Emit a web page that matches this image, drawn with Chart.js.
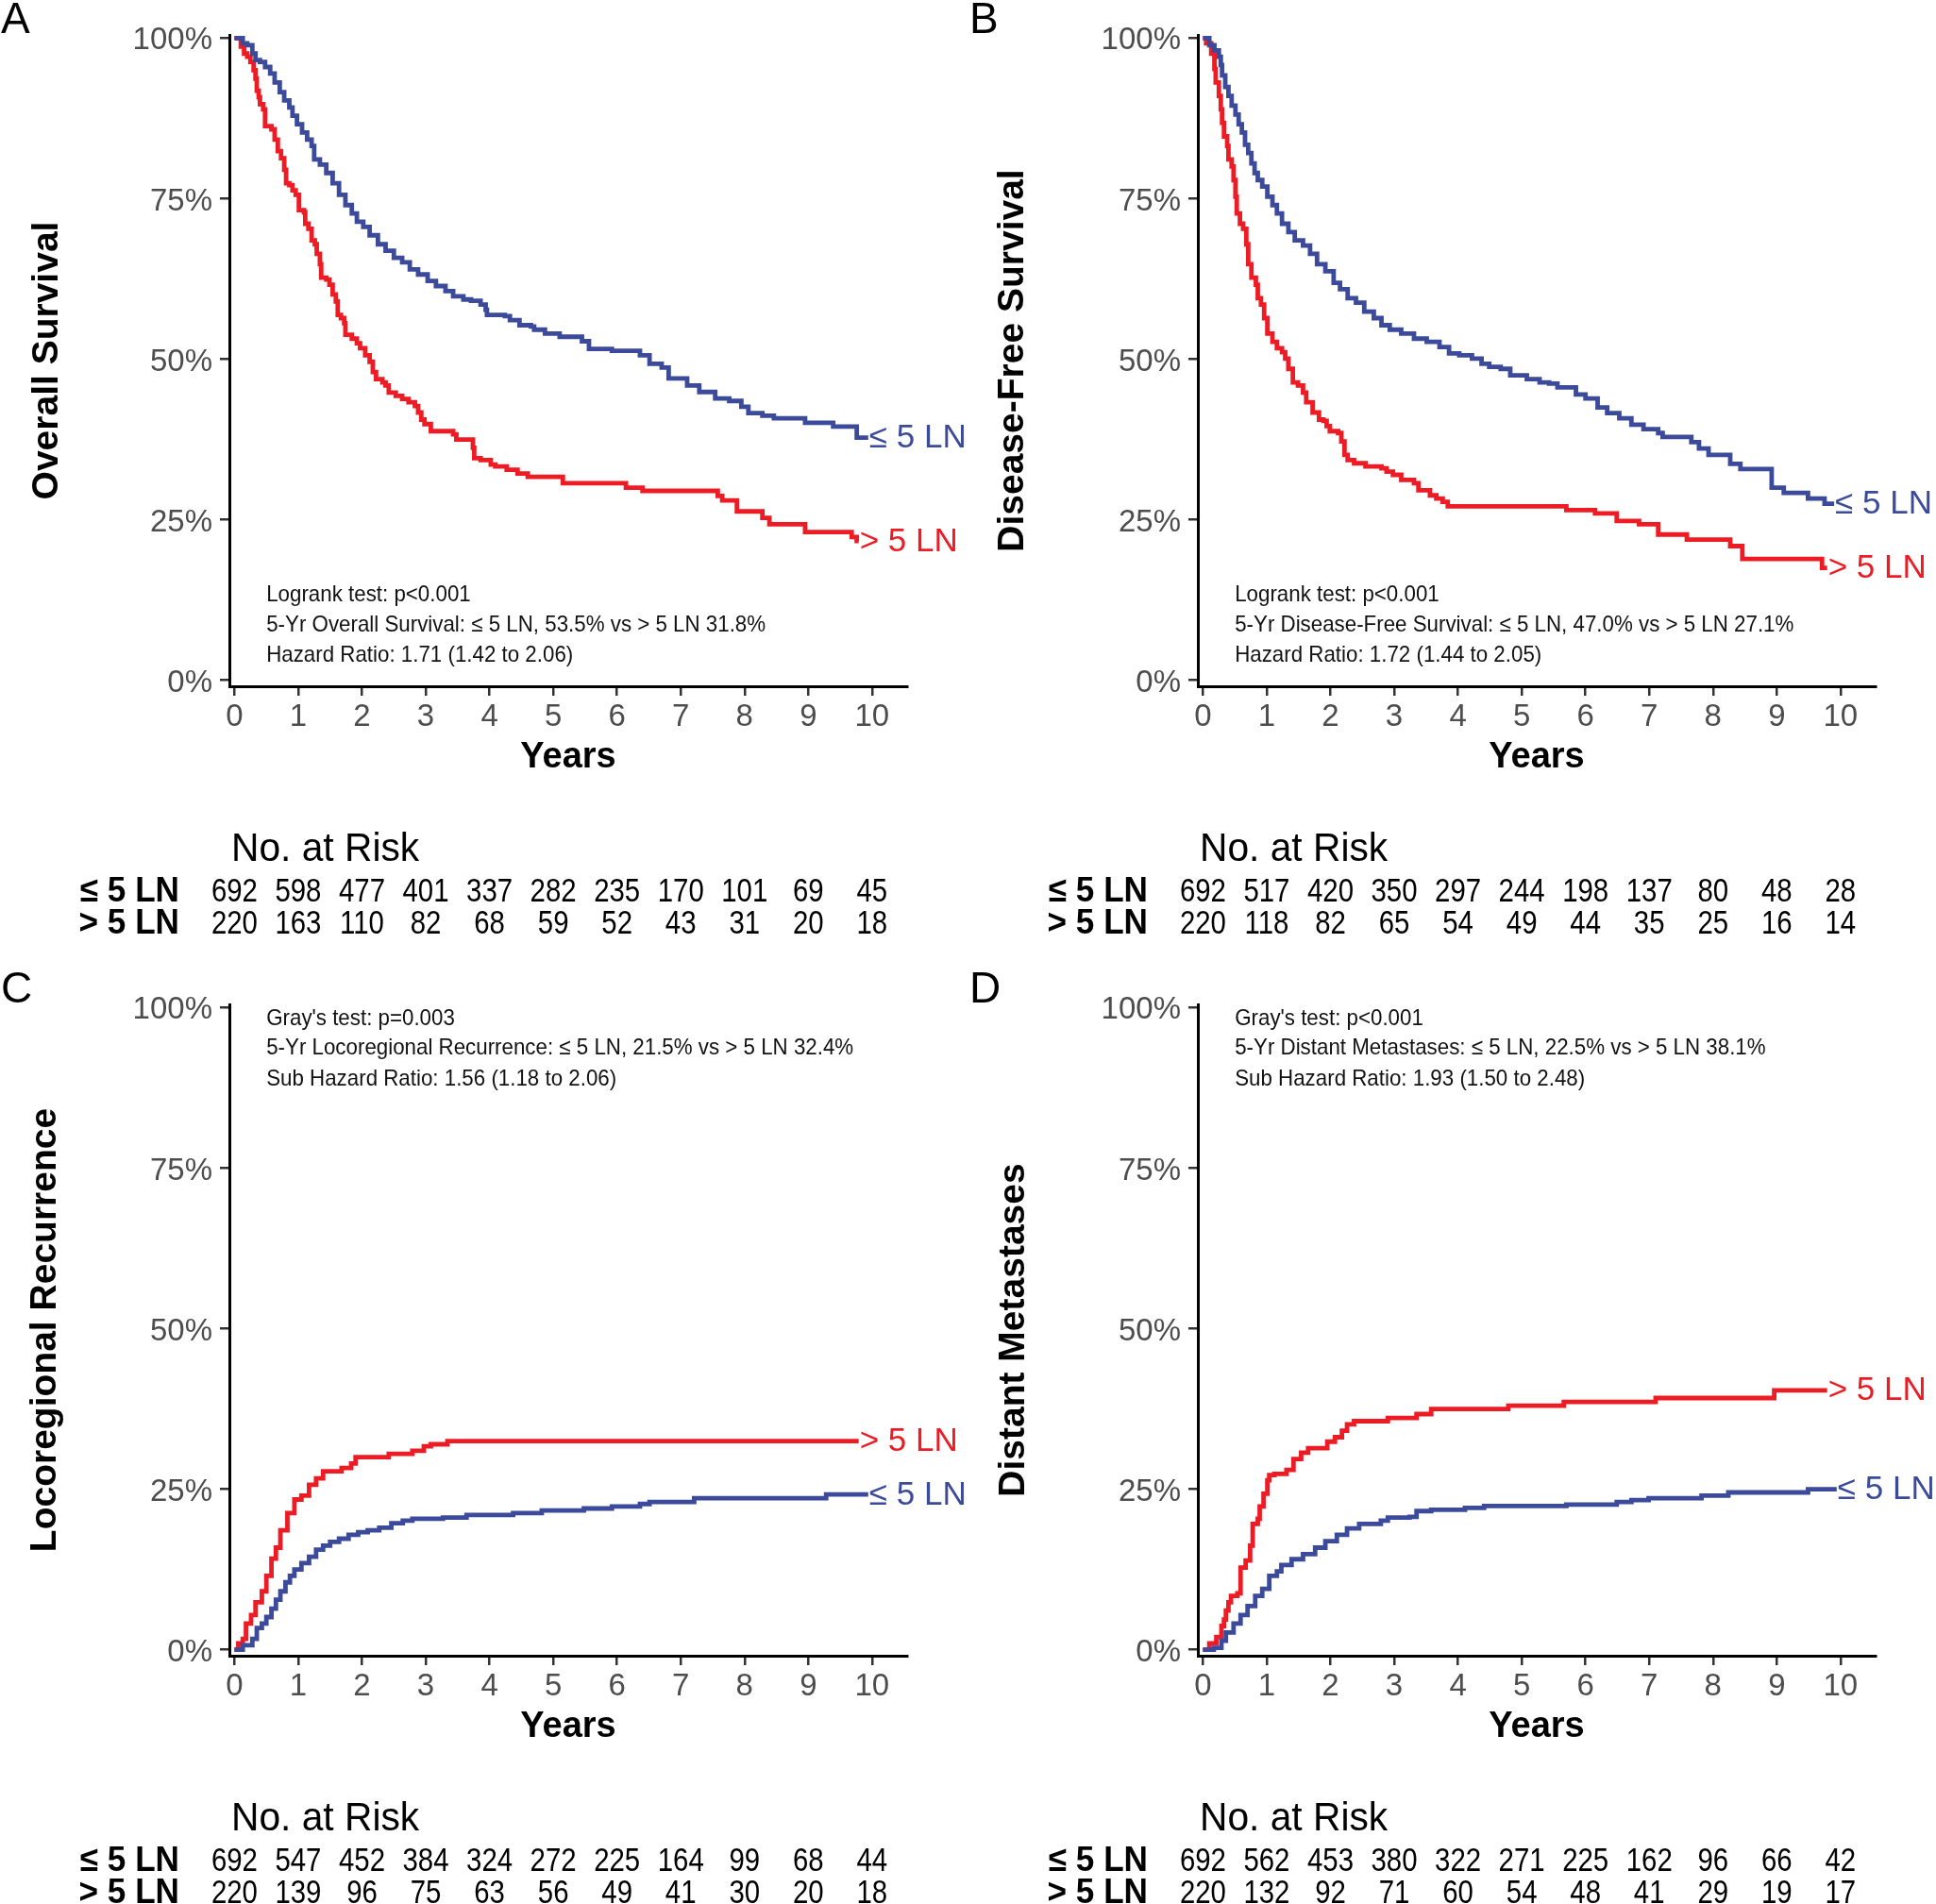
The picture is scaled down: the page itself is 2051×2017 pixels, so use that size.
<!DOCTYPE html>
<html>
<head>
<meta charset="utf-8">
<script src="https://cdn.jsdelivr.net/npm/chart.js@4.4.1/dist/chart.umd.min.js"></script>
<style>
html,body{margin:0;padding:0;background:#fff;}
body{width:2051px;height:2017px;position:relative;overflow:hidden;}
canvas{position:absolute;display:block;}
</style>
</head>
<body>
<canvas id="cA" width="1025" height="1010" style="left:0;top:0"></canvas>
<canvas id="cB" width="1025" height="1010" style="left:1026px;top:0"></canvas>
<canvas id="cC" width="1025" height="1007" style="left:0;top:1010px"></canvas>
<canvas id="cD" width="1025" height="1007" style="left:1026px;top:1010px"></canvas>
<script>
// ---------- common categories / ticks ----------
const groupNames = ['≤ 5 LN', '> 5 LN'];
const groupColors = ['#3B4A9A', '#ED1C24'];
const xTicks = [0, 1, 2, 3, 4, 5, 6, 7, 8, 9, 10];
const yTicks = [0, 0.25, 0.5, 0.75, 1];

// ---------- A: Overall survival ----------
const osLowT = [0, 0.13, 0.20, 0.28, 0.33, 0.40, 0.48, 0.56, 0.63, 0.71, 0.78, 0.86, 0.91, 0.98, 1.06, 1.14, 1.21, 1.25, 1.34, 1.44, 1.54, 1.64, 1.74, 1.84, 1.92, 2.02, 2.12, 2.25, 2.37, 2.50, 2.63, 2.75, 2.88, 3.03, 3.16, 3.31, 3.43, 3.59, 3.71, 3.86, 3.94, 3.96, 4.24, 4.32, 4.47, 4.65, 4.70, 4.87, 5.10, 5.45, 5.56, 5.92, 6.36, 6.51, 6.70, 6.81, 7.10, 7.29, 7.54, 7.76, 7.95, 8.06, 8.28, 8.46, 8.95, 9.39, 9.76, 9.94];
const osLowS = [1.000, 0.992, 0.989, 0.976, 0.966, 0.963, 0.955, 0.945, 0.931, 0.916, 0.903, 0.892, 0.879, 0.866, 0.853, 0.842, 0.832, 0.811, 0.803, 0.790, 0.774, 0.756, 0.740, 0.727, 0.714, 0.706, 0.693, 0.679, 0.669, 0.658, 0.651, 0.640, 0.632, 0.622, 0.614, 0.606, 0.598, 0.593, 0.591, 0.585, 0.577, 0.569, 0.567, 0.561, 0.553, 0.551, 0.546, 0.540, 0.535, 0.528, 0.516, 0.513, 0.506, 0.493, 0.487, 0.470, 0.459, 0.449, 0.439, 0.435, 0.426, 0.416, 0.412, 0.408, 0.401, 0.395, 0.378, 0.378];
const osHighT = [0, 0.10, 0.15, 0.20, 0.25, 0.30, 0.33, 0.35, 0.38, 0.40, 0.45, 0.48, 0.58, 0.63, 0.68, 0.73, 0.78, 0.81, 0.86, 0.91, 0.96, 1.01, 1.09, 1.11, 1.16, 1.21, 1.26, 1.29, 1.34, 1.36, 1.44, 1.49, 1.54, 1.59, 1.62, 1.67, 1.72, 1.74, 1.84, 1.92, 1.97, 2.05, 2.12, 2.17, 2.22, 2.32, 2.37, 2.42, 2.53, 2.63, 2.73, 2.83, 2.88, 2.93, 2.98, 3.08, 3.43, 3.48, 3.74, 3.76, 3.86, 4.02, 4.09, 4.27, 4.44, 4.60, 5.15, 6.14, 6.40, 7.58, 7.65, 7.88, 8.28, 8.39, 8.95, 9.68, 9.76, 9.79];
const osHighS = [1.000, 0.987, 0.976, 0.971, 0.963, 0.950, 0.937, 0.918, 0.908, 0.897, 0.889, 0.863, 0.858, 0.842, 0.824, 0.813, 0.795, 0.774, 0.771, 0.763, 0.756, 0.732, 0.729, 0.711, 0.703, 0.685, 0.679, 0.664, 0.648, 0.627, 0.624, 0.616, 0.601, 0.590, 0.569, 0.564, 0.556, 0.538, 0.532, 0.525, 0.517, 0.506, 0.496, 0.480, 0.469, 0.464, 0.459, 0.448, 0.443, 0.438, 0.433, 0.427, 0.417, 0.406, 0.399, 0.388, 0.383, 0.375, 0.362, 0.346, 0.343, 0.336, 0.333, 0.328, 0.322, 0.317, 0.307, 0.300, 0.295, 0.287, 0.280, 0.263, 0.253, 0.243, 0.231, 0.223, 0.217, 0.217];
const osRiskLow = [692, 598, 477, 401, 337, 282, 235, 170, 101, 69, 45];
const osRiskHigh = [220, 163, 110, 82, 68, 59, 52, 43, 31, 20, 18];

// ---------- B: Disease-free survival ----------
const dfsLowT = [0, 0.10, 0.18, 0.25, 0.28, 0.30, 0.35, 0.40, 0.45, 0.51, 0.56, 0.61, 0.66, 0.71, 0.76, 0.81, 0.86, 0.93, 1.01, 1.09, 1.16, 1.24, 1.34, 1.44, 1.57, 1.68, 1.79, 1.92, 2.05, 2.15, 2.27, 2.40, 2.53, 2.68, 2.80, 2.93, 3.11, 3.31, 3.51, 3.71, 3.86, 4.02, 4.22, 4.37, 4.49, 4.67, 4.82, 5.08, 5.28, 5.43, 5.56, 5.85, 6.00, 6.19, 6.34, 6.53, 6.72, 6.91, 7.14, 7.21, 7.66, 7.78, 7.93, 8.27, 8.43, 8.92, 9.11, 9.49, 9.75, 9.90];
const dfsLowS = [1.000, 0.989, 0.981, 0.971, 0.958, 0.942, 0.924, 0.910, 0.895, 0.881, 0.866, 0.853, 0.834, 0.821, 0.805, 0.790, 0.779, 0.769, 0.753, 0.740, 0.727, 0.711, 0.698, 0.685, 0.677, 0.664, 0.648, 0.637, 0.619, 0.609, 0.595, 0.588, 0.574, 0.564, 0.553, 0.546, 0.540, 0.532, 0.527, 0.519, 0.509, 0.506, 0.501, 0.493, 0.488, 0.485, 0.475, 0.469, 0.464, 0.462, 0.456, 0.445, 0.439, 0.425, 0.416, 0.408, 0.398, 0.391, 0.385, 0.379, 0.371, 0.361, 0.351, 0.337, 0.329, 0.300, 0.292, 0.283, 0.275, 0.275];
const dfsHighT = [0, 0.05, 0.13, 0.18, 0.20, 0.25, 0.28, 0.30, 0.33, 0.38, 0.40, 0.45, 0.48, 0.51, 0.53, 0.58, 0.63, 0.68, 0.71, 0.76, 0.83, 0.86, 0.91, 0.96, 1.01, 1.09, 1.16, 1.24, 1.29, 1.34, 1.41, 1.49, 1.57, 1.62, 1.72, 1.82, 1.89, 1.94, 1.99, 2.12, 2.17, 2.22, 2.27, 2.37, 2.55, 2.80, 2.88, 2.98, 3.11, 3.31, 3.38, 3.56, 3.66, 3.76, 3.84, 5.70, 6.15, 6.49, 6.84, 7.14, 7.59, 8.27, 8.46, 9.71, 9.79];
const dfsHighS = [1.000, 0.992, 0.976, 0.952, 0.931, 0.910, 0.889, 0.868, 0.847, 0.832, 0.811, 0.800, 0.779, 0.753, 0.727, 0.711, 0.703, 0.679, 0.648, 0.627, 0.616, 0.595, 0.585, 0.564, 0.540, 0.527, 0.517, 0.511, 0.501, 0.485, 0.464, 0.459, 0.448, 0.433, 0.417, 0.406, 0.404, 0.396, 0.388, 0.385, 0.372, 0.351, 0.343, 0.338, 0.333, 0.330, 0.325, 0.320, 0.312, 0.307, 0.296, 0.288, 0.283, 0.278, 0.271, 0.265, 0.260, 0.248, 0.243, 0.227, 0.219, 0.209, 0.189, 0.175, 0.175];
const dfsRiskLow = [692, 517, 420, 350, 297, 244, 198, 137, 80, 48, 28];
const dfsRiskHigh = [220, 118, 82, 65, 54, 49, 44, 35, 25, 16, 14];

// ---------- C: Locoregional recurrence ----------
const lrrLowT = [0, 0.13, 0.28, 0.35, 0.43, 0.50, 0.58, 0.65, 0.72, 0.80, 0.87, 0.94, 1.05, 1.17, 1.28, 1.39, 1.50, 1.64, 1.79, 1.94, 2.09, 2.27, 2.46, 2.64, 2.79, 3.27, 3.64, 4.37, 4.82, 5.48, 5.92, 6.36, 6.51, 7.21, 9.28, 9.94];
const lrrLowS = [0, 0.007, 0.017, 0.034, 0.041, 0.051, 0.064, 0.078, 0.091, 0.105, 0.115, 0.125, 0.135, 0.145, 0.156, 0.162, 0.168, 0.173, 0.179, 0.183, 0.186, 0.190, 0.197, 0.201, 0.204, 0.206, 0.210, 0.213, 0.217, 0.220, 0.223, 0.227, 0.230, 0.236, 0.242, 0.242];
const lrrHighT = [0, 0.06, 0.13, 0.18, 0.26, 0.33, 0.43, 0.50, 0.58, 0.65, 0.72, 0.83, 0.94, 1.05, 1.17, 1.28, 1.39, 1.68, 1.83, 1.90, 2.42, 2.79, 2.97, 3.08, 3.34, 9.79];
const lrrHighS = [0, 0.010, 0.017, 0.041, 0.054, 0.074, 0.091, 0.115, 0.142, 0.159, 0.186, 0.213, 0.234, 0.240, 0.257, 0.267, 0.278, 0.283, 0.290, 0.300, 0.305, 0.310, 0.317, 0.320, 0.325, 0.325];
const lrrRiskLow = [692, 547, 452, 384, 324, 272, 225, 164, 99, 68, 44];
const lrrRiskHigh = [220, 139, 96, 75, 63, 56, 49, 41, 30, 20, 18];

// ---------- D: Distant metastases ----------
const dmLowT = [0, 0.17, 0.29, 0.36, 0.48, 0.59, 0.70, 0.82, 0.93, 1.04, 1.16, 1.23, 1.39, 1.57, 1.76, 1.92, 2.10, 2.26, 2.45, 2.79, 2.90, 3.24, 3.35, 3.58, 4.11, 4.41, 5.70, 6.49, 6.72, 6.99, 7.82, 8.24, 9.49, 9.94];
const dmLowS = [0, 0.003, 0.014, 0.027, 0.041, 0.054, 0.068, 0.084, 0.095, 0.115, 0.122, 0.132, 0.141, 0.149, 0.159, 0.169, 0.179, 0.189, 0.196, 0.201, 0.206, 0.207, 0.216, 0.218, 0.221, 0.224, 0.226, 0.230, 0.233, 0.236, 0.240, 0.245, 0.250, 0.250];
const dmHighT = [0, 0.10, 0.21, 0.29, 0.33, 0.36, 0.40, 0.44, 0.54, 0.59, 0.67, 0.74, 0.78, 0.86, 0.89, 0.95, 1.01, 1.04, 1.12, 1.31, 1.42, 1.54, 1.65, 1.95, 2.07, 2.18, 2.26, 2.37, 2.90, 3.35, 3.58, 4.79, 5.66, 7.10, 8.96, 9.79];
const dmHighS = [0, 0.010, 0.020, 0.037, 0.047, 0.061, 0.074, 0.084, 0.088, 0.128, 0.139, 0.162, 0.196, 0.204, 0.223, 0.243, 0.264, 0.272, 0.274, 0.280, 0.297, 0.307, 0.314, 0.324, 0.331, 0.341, 0.351, 0.356, 0.361, 0.367, 0.375, 0.380, 0.386, 0.392, 0.404, 0.404];
const dmRiskLow = [692, 562, 453, 380, 322, 271, 225, 162, 96, 66, 42];
const dmRiskHigh = [220, 132, 92, 71, 60, 54, 48, 41, 29, 19, 17];

// ---------- texts ----------
const notesA = ['Logrank test: p<0.001', '5-Yr Overall Survival: ≤ 5 LN, 53.5% vs > 5 LN 31.8%', 'Hazard Ratio: 1.71 (1.42 to 2.06)'];
const notesB = ['Logrank test: p<0.001', '5-Yr Disease-Free Survival: ≤ 5 LN, 47.0% vs > 5 LN 27.1%', 'Hazard Ratio: 1.72 (1.44 to 2.05)'];
const notesC = ["Gray's test: p=0.003", '5-Yr Locoregional Recurrence: ≤ 5 LN, 21.5% vs > 5 LN 32.4%', 'Sub Hazard Ratio: 1.56 (1.18 to 2.06)'];
const notesD = ["Gray's test: p<0.001", '5-Yr Distant Metastases: ≤ 5 LN, 22.5% vs > 5 LN 38.1%', 'Sub Hazard Ratio: 1.93 (1.50 to 2.48)'];

// ---------- rendering ----------
const FONT = "'Liberation Sans', Arial, Helvetica, sans-serif";
Chart.defaults.font.family = FONT;

const pts = (t, s) => t.slice(0, Math.min(t.length, s.length)).map((v, i) => ({x: v, y: s[i]}));

function txt(ctx, s, x, y, font, color, align, sx, base) {
  ctx.save();
  ctx.font = font;
  ctx.fillStyle = color;
  ctx.textAlign = align;
  ctx.textBaseline = base || 'middle';
  ctx.translate(x, y);
  ctx.scale(sx, 1);
  ctx.fillText(s, 0, 0);
  ctx.restore();
}

function decor(p) {
  return {
    id: 'kmDecor',
    afterDraw(chart) {
      const ctx = chart.ctx, xs = chart.scales.x, ys = chart.scales.y, ca = chart.chartArea;
      // curve end labels
      chart.data.datasets.forEach((d, i) => {
        const meta = chart.getDatasetMeta(i);
        const el = meta.data[meta.data.length - 1];
        txt(ctx, d.label, el.x + 1, el.y + 1, '35px ' + FONT, d.borderColor, 'left', 1);
      });
      // annotation lines
      p.notes.forEach((s, k) => {
        txt(ctx, s, xs.getPixelForValue(p.noteX), ys.getPixelForValue(p.noteY[k]), '24px ' + FONT, '#111111', 'left', 0.93);
      });
      // risk table
      txt(ctx, 'No. at Risk', ca.left + 2, ca.bottom + 173, '42px ' + FONT, '#000000', 'left', 0.97);
      const rows = [p.riskLow, p.riskHigh];
      rows.forEach((r, k) => {
        const y = ca.bottom + 218 + k * 34;
        txt(ctx, groupNames[k], ca.left - 53, y, 'bold 37px ' + FONT, '#000000', 'right', 0.95);
        r.forEach((n, i) => txt(ctx, String(n), xs.getPixelForValue(xTicks[i]), y, '35px ' + FONT, '#000000', 'center', 0.84));
      });
      // panel letter
      txt(ctx, p.letter, 1, ca.top - 2, '46px ' + FONT, '#000000', 'left', 1, 'alphabetic');
    }
  };
}

const panels = [
  {id: 'cA', letter: 'A', yTitle: 'Overall Survival', low: pts(osLowT, osLowS), high: pts(osHighT, osHighS), riskLow: osRiskLow, riskHigh: osRiskHigh, notes: notesA, noteX: 0.5, noteY: [0.133, 0.085, 0.038], padTop: 37, padBottom: 173, titlePad: 27},
  {id: 'cB', letter: 'B', yTitle: 'Disease-Free Survival', low: pts(dfsLowT, dfsLowS), high: pts(dfsHighT, dfsHighS), riskLow: dfsRiskLow, riskHigh: dfsRiskHigh, notes: notesB, noteX: 0.5, noteY: [0.133, 0.085, 0.038], padTop: 37, padBottom: 173, titlePad: 24},
  {id: 'cC', letter: 'C', yTitle: 'Locoregional Recurrence', low: pts(lrrLowT, lrrLowS), high: pts(lrrHighT, lrrHighS), riskLow: lrrRiskLow, riskHigh: lrrRiskHigh, notes: notesC, noteX: 0.5, noteY: [0.983, 0.937, 0.889], padTop: 54, padBottom: 153, titlePad: 25},
  {id: 'cD', letter: 'D', yTitle: 'Distant Metastases', low: pts(dmLowT, dmLowS), high: pts(dmHighT, dmHighS), riskLow: dmRiskLow, riskHigh: dmRiskHigh, notes: notesD, noteX: 0.5, noteY: [0.983, 0.937, 0.889], padTop: 54, padBottom: 153, titlePad: 25}
];

const axisCommon = {
  grid: {display: true, drawOnChartArea: false, drawTicks: true, tickLength: 10, color: '#333333', lineWidth: 2.5},
  border: {display: true, color: '#000000', width: 3}
};

panels.forEach(p => {
  const mk = (k, data) => ({
    label: groupNames[k], data: data, borderColor: groupColors[k], backgroundColor: groupColors[k],
    borderWidth: 4.8, pointRadius: 0, stepped: 'before', fill: false, tension: 0
  });
  new Chart(document.getElementById(p.id), {
    type: 'line',
    data: {datasets: [mk(0, p.low), mk(1, p.high)]},
    options: {
      responsive: false, animation: false, events: [],
      layout: {padding: {top: p.padTop, left: 0, right: 64, bottom: p.padBottom}},
      plugins: {legend: {display: false}, tooltip: {enabled: false}, title: {display: false}},
      scales: {
        x: Object.assign({}, axisCommon, {
          type: 'linear', min: -0.08, max: 10.55,
          afterBuildTicks: s => { s.ticks = xTicks.map(v => ({value: v})); },
          afterFit: s => { s.height = 110; },
          ticks: {color: '#4D4D4D', font: {size: 33}, padding: 3, maxRotation: 0, autoSkip: false},
          title: {display: true, text: 'Years', color: '#000000', font: {size: 38, weight: 'bold'}, padding: {top: 0, bottom: 12}}
        }),
        y: Object.assign({}, axisCommon, {
          type: 'linear', min: -0.0093, max: 1.005,
          afterBuildTicks: s => { s.ticks = yTicks.map(v => ({value: v})); },
          afterFit: s => { s.width = 243; },
          ticks: {color: '#4D4D4D', font: {size: 33}, padding: 8, labelOffset: 3, callback: v => Math.round(v * 100) + '%'},
          title: {display: true, text: p.yTitle, color: '#000000', font: {size: 39, weight: 'bold'}, padding: {top: p.titlePad, bottom: 0}}
        })
      }
    },
    plugins: [decor(p)]
  });
});
</script>
</body>
</html>
